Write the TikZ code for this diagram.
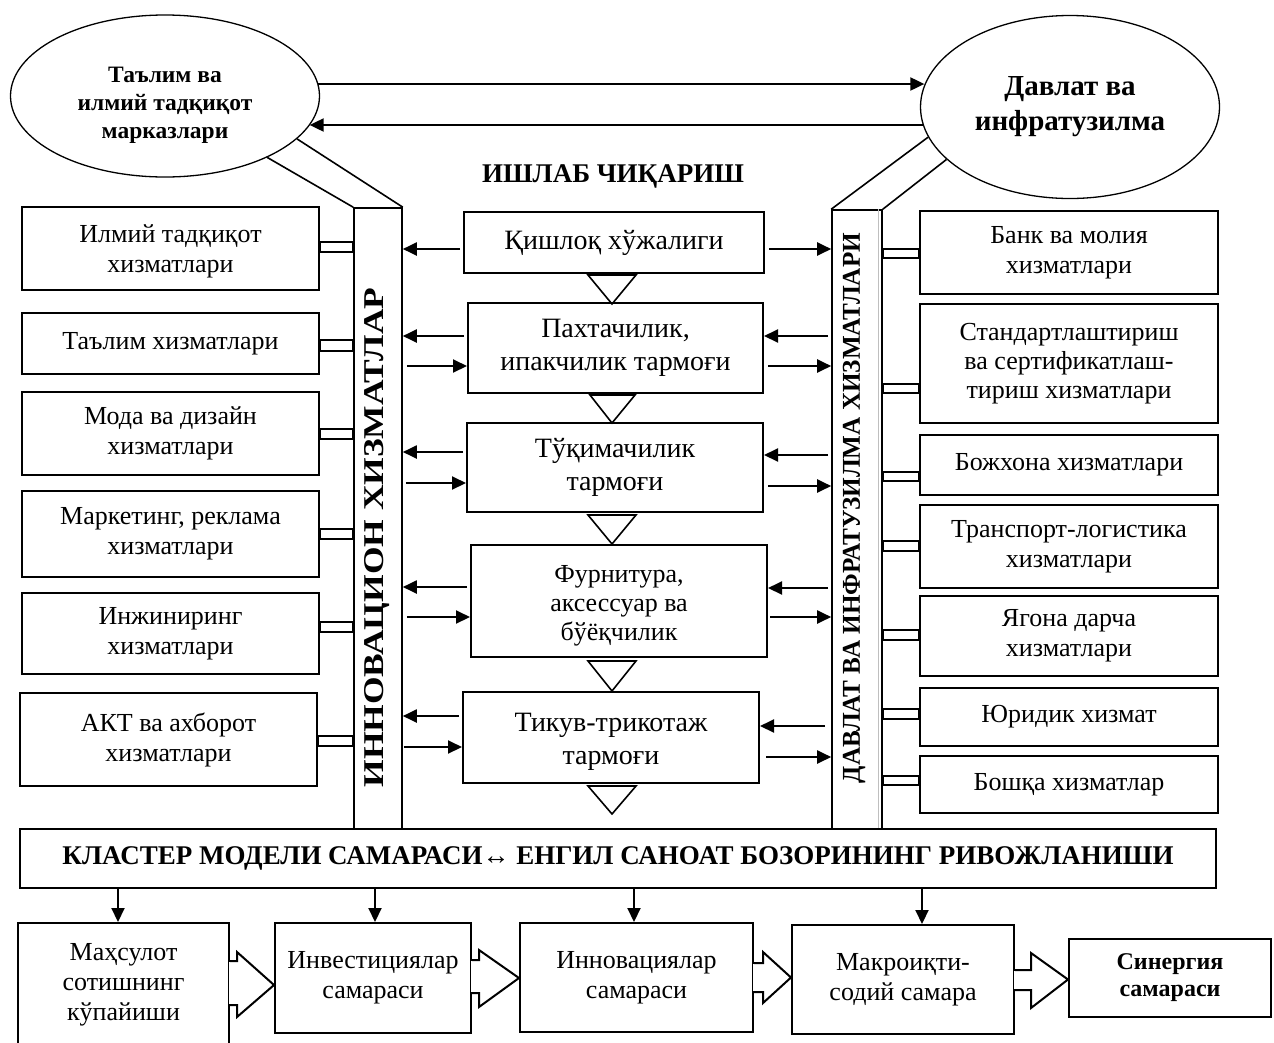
\documentclass[tikz,border=0pt]{standalone}
\usepackage{fontspec}
\setmainfont{Liberation Serif}
\usepackage{graphicx}
\usetikzlibrary{arrows.meta,shapes.geometric,calc}
\begin{document}
\begin{tikzpicture}[x=1pt,y=-1pt,
  box/.style={draw, line width=2pt, align=center, inner sep=0pt, font=\fontsize{26}{30}\selectfont},
  cbox/.style={box, font=\fontsize{28}{33}\selectfont},
  ell/.style={draw, ellipse, line width=1.3pt, inner sep=0pt, align=center},
  barbox/.style={draw, line width=1.6pt, inner sep=0pt},
  arr/.style={line width=2pt, -{Triangle[length=14pt,width=13pt]}},
  link/.style={line width=1.5pt},
  tri/.style={line width=1.6pt, line join=miter},
  slant/.style={line width=1.6pt},
  barrow/.style={line width=2pt, line join=miter},
]
\path[use as bounding box] (0,0) rectangle (1274,1042);
\fill[white] (0,0) rectangle (1274,1042);
\clip (0,0) rectangle (1274,1042);

% ellipses
\node[ell, minimum width=309pt, minimum height=162pt, font=\bfseries\fontsize{23.5}{28}\selectfont] (ellL) at (165,96) {\rule{0pt}{34pt}Таълим ва\\илмий тадқиқот\\марказлари};
\node[ell, minimum width=299pt, minimum height=183pt, font=\bfseries\fontsize{29}{35}\selectfont] (ellR) at (1070,107) {Давлат ва\\инфратузилма};
\draw[arr, shorten <=-2pt, shorten >=-4.5pt] (ellL.east |- 0,84) -- (ellR.west |- 0,84);
\draw[arr, shorten <=-3pt, shorten >=-10.5pt] (ellR.west |- 0,125) -- (ellL.east |- 0,125);

\node[font=\bfseries\fontsize{27}{30}\selectfont, anchor=base, inner sep=0pt] (title) at (613,182) {ИШЛАБ ЧИҚАРИШ};

% bars
\node[barbox, minimum width=48pt, minimum height=621pt] (barL) at (378,518.5) {};
\node[barbox, minimum width=50pt, minimum height=619pt] (barR) at (857,519.5) {};
\draw[gray!50, line width=0.8pt] ([xshift=-4pt]barR.north east) -- ([xshift=-4pt]barR.south east);
\node[rotate=90, inner sep=0pt] (tL) at (377.5,537.5) {\resizebox{500pt}{19pt}{\bfseries ИННОВАЦИОН ХИЗМАТЛАР}};
\node[rotate=90, inner sep=0pt] (tR) at (854,508) {\resizebox{550pt}{17pt}{\bfseries ДАВЛАТ ВА ИНФРАТУЗИЛМА ХИЗМАТЛАРИ}};

\draw[slant] (ellL.-31.8) -- (barL.north west);
\draw[slant] (ellL.-18.75) -- (barL.north east);
\draw[slant] (ellR.192.2) -- (barR.north west);
\draw[slant] (ellR.203.3) -- (barR.north east);

% centre column
\node[cbox, minimum width=300pt, minimum height=61pt] (C1) at (614,242.5) {Қишлоқ хўжалиги};
\node[cbox, minimum width=295pt, minimum height=90pt] (C2) at (615.5,348) {Пахтачилик,\\ипакчилик тармоғи};
\node[cbox, minimum width=296pt, minimum height=89pt] (C3) at (615,467.5) {Тўқимачилик\\тармоғи};
\node[box, minimum width=296pt, minimum height=112pt, font=\fontsize{26}{29}\selectfont] (C4) at (619,601) {\rule{0pt}{26pt}Фурнитура,\\аксессуар ва\\бўёқчилик};
\node[cbox, minimum width=296pt, minimum height=91pt] (C5) at (611,737.5) {\rule{0pt}{26pt}Тикув-трикотаж\\тармоғи};

\draw[tri] ($(C1.south)+(-26,1)$) -- ($(C1.south)+(22,1)$) -- ($(C1.south)+(-2,30)$) -- cycle;
\draw[tri] ($(C2.south)+(-25.5,1)$) -- ($(C2.south)+(19.5,1)$) -- ($(C2.south)+(-3.5,29)$) -- cycle;
\draw[tri] ($(C3.south)+(-27,2)$) -- ($(C3.south)+(21,2)$) -- ($(C3.south)+(-3,31)$) -- cycle;
\draw[tri] ($(C4.south)+(-31,3)$) -- ($(C4.south)+(17,3)$) -- ($(C4.south)+(-7,33)$) -- cycle;
\draw[tri] ($(C5.south)+(-23,2)$) -- ($(C5.south)+(25,2)$) -- ($(C5.south)+(1,30)$) -- cycle;

% arrows centre <-> bars
\draw[arr, shorten <=3pt] (C1.west |- 0,249) -- (barL.east |- 0,249);
\draw[arr, shorten <=4pt] (C1.east |- 0,249) -- (barR.west |- 0,249);
\draw[arr, shorten <=3pt] (C2.west |- 0,336) -- (barL.east |- 0,336);
\draw[arr, shorten <=4pt] (barL.east |- 0,366) -- (C2.west |- 0,366);
\draw[arr, shorten <=3pt] (barR.west |- 0,336) -- (C2.east |- 0,336);
\draw[arr, shorten <=4pt] (C2.east |- 0,366) -- (barR.west |- 0,366);
\draw[arr, shorten <=3pt] (C3.west |- 0,452) -- (barL.east |- 0,452);
\draw[arr, shorten <=3pt] (barL.east |- 0,483) -- (C3.west |- 0,483);
\draw[arr, shorten <=3pt] (barR.west |- 0,455) -- (C3.east |- 0,455);
\draw[arr, shorten <=4pt] (C3.east |- 0,486) -- (barR.west |- 0,486);
\draw[arr, shorten <=3pt] (C4.west |- 0,587) -- (barL.east |- 0,587);
\draw[arr, shorten <=4pt] (barL.east |- 0,617) -- (C4.west |- 0,617);
\draw[arr, shorten <=3pt] (barR.west |- 0,588) -- (C4.east |- 0,588);
\draw[arr, shorten <=2pt] (C4.east |- 0,617) -- (barR.west |- 0,617);
\draw[arr, shorten <=3pt] (C5.west |- 0,716) -- (barL.east |- 0,716);
\draw[arr, shorten <=1pt] (barL.east |- 0,747) -- (C5.west |- 0,747);
\draw[arr, shorten <=6pt] (barR.west |- 0,726) -- (C5.east |- 0,726);
\draw[arr, shorten <=6pt] (C5.east |- 0,757) -- (barR.west |- 0,757);

% left column
\node[box, minimum width=297pt, minimum height=83pt] (L1) at (170.5,248.5) {\rule{0pt}{24pt}Илмий тадқиқот\\хизматлари};
\node[box, minimum width=297pt, minimum height=61pt] (L2) at (170.5,343.5) {Таълим хизматлари};
\node[box, minimum width=297pt, minimum height=83pt] (L3) at (170.5,433.5) {Мода ва дизайн\\хизматлари};
\node[box, minimum width=297pt, minimum height=86pt] (L4) at (170.5,534) {Маркетинг, реклама\\хизматлари};
\node[box, minimum width=297pt, minimum height=81pt] (L5) at (170.5,633.5) {Инжиниринг\\хизматлари};
\node[box, minimum width=297pt, minimum height=93pt] (L6) at (168.5,739.5) {АКТ ва ахборот\\хизматлари};
\draw[link] (L1.east |- 0,242) rectangle (barL.west |- 0,252);
\draw[link] (L2.east |- 0,340) rectangle (barL.west |- 0,351);
\draw[link] (L3.east |- 0,429) rectangle (barL.west |- 0,439);
\draw[link] (L4.east |- 0,529) rectangle (barL.west |- 0,539);
\draw[link] (L5.east |- 0,622) rectangle (barL.west |- 0,632);
\draw[link] (L6.east |- 0,736) rectangle (barL.west |- 0,746);

% right column
\node[box, minimum width=298pt, minimum height=83pt] (R1) at (1069,252.5) {Банк ва молия\\хизматлари};
\node[box, minimum width=298pt, minimum height=119pt, font=\fontsize{26}{29}\selectfont] (R2) at (1069,363.5) {Стандартлаштириш\\ва сертификатлаш-\\тириш хизматлари};
\node[box, minimum width=298pt, minimum height=60pt] (R3) at (1069,465) {Божхона хизматлари};
\node[box, minimum width=298pt, minimum height=83pt] (R4) at (1069,546.5) {Транспорт-логистика\\хизматлари};
\node[box, minimum width=298pt, minimum height=80pt] (R5) at (1069,636) {Ягона дарча\\хизматлари};
\node[box, minimum width=298pt, minimum height=58pt] (R6) at (1069,717) {Юридик хизмат};
\node[box, minimum width=298pt, minimum height=57pt] (R7) at (1069,784.5) {Бошқа хизматлар};
\draw[link] (barR.east |- 0,249) rectangle (R1.west |- 0,258);
\draw[link] (barR.east |- 0,384) rectangle (R2.west |- 0,393);
\draw[link] (barR.east |- 0,472) rectangle (R3.west |- 0,481);
\draw[link] (barR.east |- 0,541) rectangle (R4.west |- 0,551);
\draw[link] (barR.east |- 0,630) rectangle (R5.west |- 0,640);
\draw[link] (barR.east |- 0,709) rectangle (R6.west |- 0,719);
\draw[link] (barR.east |- 0,776) rectangle (R7.west |- 0,785);

% cluster box
\node[box, minimum width=1196pt, minimum height=59pt] (KL) at (618,858.5) {\resizebox{1111pt}{!}{\bfseries\fontsize{27}{30}\selectfont КЛАСТЕР МОДЕЛИ САМАРАСИ↔ ЕНГИЛ САНОАТ БОЗОРИНИНГ РИВОЖЛАНИШИ}};

% bottom row
\node[box, minimum width=211pt, minimum height=124pt] (B1) at (123.5,985) {Маҳсулот\\сотишнинг\\кўпайиши};
\node[box, minimum width=196pt, minimum height=110pt] (B2) at (373,978) {Инвестициялар\\самараси};
\node[box, minimum width=233pt, minimum height=109pt] (B3) at (636.5,977.5) {Инновациялар\\самараси};
\node[box, minimum width=222pt, minimum height=109pt] (B4) at (903,979.5) {Макроиқти-\\содий самара};
\node[box, minimum width=202pt, minimum height=78pt, font=\bfseries\fontsize{24}{27}\selectfont] (B5) at (1170,978) {Синергия\\самараси};

\draw[arr] ([xshift=-5.5pt]B1.north |- KL.south) -- ([xshift=-5.5pt]B1.north);
\draw[arr] ([xshift=2pt]B2.north |- KL.south) -- ([xshift=2pt]B2.north);
\draw[arr] ([xshift=-2.5pt]B3.north |- KL.south) -- ([xshift=-2.5pt]B3.north);
\draw[arr] ([xshift=19pt]B4.north |- KL.south) -- ([xshift=19pt]B4.north);

% block arrows
\fill[white] ($(B1.east)+(-1.5,-23)$) rectangle ($(B1.east)+(1.5,19)$);
\draw[barrow] ($(B1.east)+(0,-24)$) -- ++(7,0) -- ++(0,-9) -- (B1.east -| B2.west) -- ($(B1.east)+(7,32)$) -- ++(0,-12) -- ++(-7,0);
\fill[white] ($(B2.east)+(-1.5,-17)$) rectangle ($(B2.east)+(1.5,14)$);
\draw[barrow] ($(B2.east)+(0,-18)$) -- ++(7,0) -- ++(0,-10) -- (B2.east -| B3.west) -- ($(B2.east)+(7,29)$) -- ++(0,-14) -- ++(-7,0);
\fill[white] ($(B3.east)+(-1.5,-13.5)$) rectangle ($(B3.east)+(1.5,13.5)$);
\draw[barrow] ($(B3.east)+(0,-14.5)$) -- ++(9,0) -- ++(0,-11) -- (B3.east -| B4.west) -- ($(B3.east)+(9,25.5)$) -- ++(0,-11) -- ++(-9,0);
\fill[white] ($(B4.east)+(-1.5,-8.5)$) rectangle ($(B4.east)+(1.5,9.5)$);
\draw[barrow] ($(B4.east)+(0,-9.5)$) -- ++(16,0) -- ++(0,-17) -- (B4.east -| B5.west) -- ($(B4.east)+(16,28.5)$) -- ++(0,-18) -- ++(-16,0);
\end{tikzpicture}
\end{document}
